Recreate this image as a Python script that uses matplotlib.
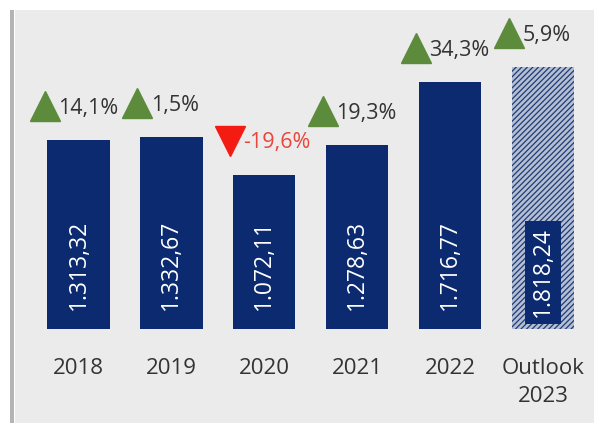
import numpy as np
import matplotlib
matplotlib.use("Agg")
import matplotlib.pyplot as plt
from matplotlib.patches import Rectangle
from matplotlib.transforms import ScaledTranslation

plt.rcParams['font.family'] = ['Open Sans', 'DejaVu Sans']
plt.rcParams['hatch.linewidth'] = 0.9

# data
years = ["2018", "2019", "2020", "2021", "2022", "Outlook\n2023"]
values = [1313.32, 1332.67, 1072.11, 1278.63, 1716.77, 1818.24]
value_labels = ["1.313,32", "1.332,67", "1.072,11", "1.278,63", "1.716,77", "1.818,24"]
growth = [14.1, 1.5, -19.6, 19.3, 34.3, 5.9]
growth_labels = ["14,1%", "1,5%", "-19,6%", "19,3%", "34,3%", "5,9%"]

navy = "#0b2a70"
green = "#5b8b3b"
red = "#f41c12"
red_text = "#e9473d"
grey_text = "#333333"

fig = plt.figure(figsize=(5.94, 4.23), dpi=100)
fig.patch.set_facecolor("white")

# light panel + left rule behind the chart
fig.patches.append(Rectangle((15 / 594, 0), 1, 1 - 10 / 423, transform=fig.transFigure,
                             facecolor="#ebebeb", edgecolor="none", zorder=-2))
fig.patches.append(Rectangle((10 / 594, 0), 4 / 594, 1 - 10 / 423, transform=fig.transFigure,
                             facecolor="#b4b4b4", edgecolor="none", zorder=-2))

ax = fig.add_axes([0, 94 / 423, 1, 319 / 423])
ax.set_facecolor("none")
x = np.arange(len(years))

ax.bar(x[:-1], values[:-1], width=0.67, color=navy, zorder=2)
ax.bar(x[-1], values[-1], width=0.67, color="#b4bfd2", edgecolor="#1f3a78",
       hatch="//////", linewidth=0, zorder=2)

ax.set_xlim(-0.845, 5.549)
ax.set_ylim(0, 2217)
px = 319 / 2217  # pixels per unit on the y axis

for xi, lab in zip(x[:-1], value_labels[:-1]):
    ax.annotate(lab, (xi, 0), xytext=(0, 13.5), textcoords="offset points",
                rotation=90, ha="center", va="bottom", color="white",
                fontsize=16.5, zorder=3)

# outlook value sits in its own solid box
ax.annotate(value_labels[-1], (x[-1], 0), xytext=(0, 8.5), textcoords="offset points",
            rotation=90, ha="center", va="bottom", color="white", fontsize=16.5,
            bbox=dict(boxstyle="square,pad=0.28", facecolor=navy, edgecolor="none"),
            zorder=3)

# growth markers above each bar
shift = ScaledTranslation(-34 / 100, 0, fig.dpi_scale_trans)
for xi, v, g, glab in zip(x, values, growth, growth_labels):
    up = g >= 0
    tri_y = v + 34 / px
    ax.plot([xi], [tri_y], marker="^" if up else "v", markersize=22,
            color=green if up else red, transform=ax.transData + shift,
            clip_on=False, zorder=3)
    ax.annotate(glab, (xi, tri_y), xytext=(-15, -1.5), textcoords="offset points",
                ha="left", va="center", fontsize=15.5,
                color=grey_text if up else red_text, zorder=3)

ax.set_xticks(x)
ax.set_xticklabels(years, fontsize=16, color=grey_text, linespacing=1.45)
ax.tick_params(axis="x", length=0, pad=21)
ax.set_yticks([])
for s in ax.spines.values():
    s.set_visible(False)

fig.savefig("out.png", dpi=100)
